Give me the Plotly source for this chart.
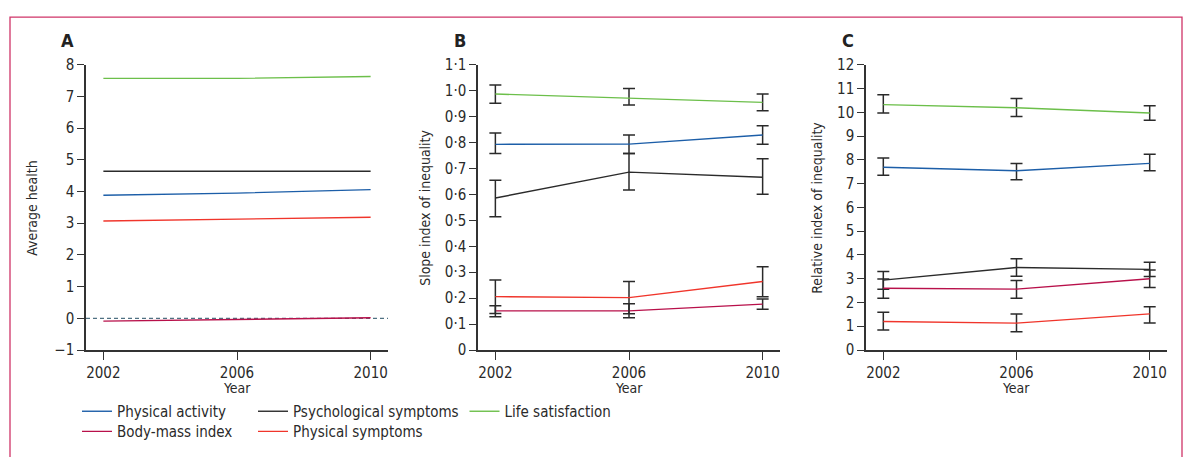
import plotly.graph_objects as go

years = [2002, 2006, 2010]

names = ["Physical activity", "Psychological symptoms", "Life satisfaction",
         "Body-mass index", "Physical symptoms"]
colors = ["#1c5ea8", "#2b2b2b", "#6cbf4a", "#b8104a", "#f0352b"]

# Panel A: average health
avg_pa = [3.88, 3.95, 4.06]
avg_psych = [4.64, 4.64, 4.64]
avg_life = [7.57, 7.57, 7.63]
avg_bmi = [-0.09, -0.04, 0.02]
avg_phys = [3.07, 3.13, 3.19]

# Panel B: slope index of inequality (estimate, upper CI, lower CI)
sii_pa = [0.793, 0.794, 0.829]
sii_pa_hi = [0.837, 0.829, 0.865]
sii_pa_lo = [0.758, 0.758, 0.793]
sii_psych = [0.586, 0.686, 0.666]
sii_psych_hi = [0.655, 0.758, 0.737]
sii_psych_lo = [0.514, 0.617, 0.601]
sii_life = [0.987, 0.972, 0.955]
sii_life_hi = [1.022, 1.008, 0.987]
sii_life_lo = [0.951, 0.945, 0.923]
sii_bmi = [0.151, 0.151, 0.177]
sii_bmi_hi = [0.171, 0.178, 0.197]
sii_bmi_lo = [0.128, 0.124, 0.157]
sii_phys = [0.206, 0.202, 0.264]
sii_phys_hi = [0.270, 0.264, 0.321]
sii_phys_lo = [0.141, 0.140, 0.205]

# Panel C: relative index of inequality (estimate, upper CI, lower CI)
rii_pa = [7.69, 7.54, 7.85]
rii_pa_hi = [8.08, 7.84, 8.23]
rii_pa_lo = [7.35, 7.16, 7.54]
rii_psych = [2.94, 3.47, 3.39]
rii_psych_hi = [3.30, 3.84, 3.69]
rii_psych_lo = [2.56, 3.10, 3.09]
rii_life = [10.32, 10.19, 9.97]
rii_life_hi = [10.74, 10.58, 10.27]
rii_life_lo = [9.97, 9.82, 9.66]
rii_bmi = [2.60, 2.56, 3.00]
rii_bmi_hi = [2.99, 2.92, 3.37]
rii_bmi_lo = [2.18, 2.18, 2.63]
rii_phys = [1.20, 1.13, 1.52]
rii_phys_hi = [1.59, 1.51, 1.82]
rii_phys_lo = [0.84, 0.77, 1.14]

a_ticks = [-1, 0, 1, 2, 3, 4, 5, 6, 7, 8]
a_ticktext = ["\u22121", "0", "1", "2", "3", "4", "5", "6", "7", "8"]
b_ticks = [0, 0.1, 0.2, 0.3, 0.4, 0.5, 0.6, 0.7, 0.8, 0.9, 1.0, 1.1]
b_ticktext = ["0", "0\u00b71", "0\u00b72", "0\u00b73", "0\u00b74", "0\u00b75", "0\u00b76",
              "0\u00b77", "0\u00b78", "0\u00b79", "1\u00b70", "1\u00b71"]
c_ticks = list(range(0, 13))
year_ticks = [2002, 2006, 2010]

FONT = "DejaVu Sans Condensed, Liberation Sans Narrow, Arial, sans-serif"
AX = "#333333"
TXT = "#2a2a2a"
W, H = 1186, 457

fig = go.Figure()

avg_sets = [avg_pa, avg_psych, avg_life, avg_bmi, avg_phys]
legend_ids = ["legend", "legend", "legend", "legend2", "legend2"]
legend_widths = [131, 166.5, None, 131, None]
for i, vals in enumerate(avg_sets):
    kw = dict(legendwidth=legend_widths[i]) if legend_widths[i] else {}
    fig.add_trace(go.Scatter(x=years, y=vals, mode="lines", name=names[i],
                             line=dict(color=colors[i], width=1.4),
                             xaxis="x", yaxis="y", legend=legend_ids[i],
                             showlegend=True, **kw))

def add_ci(vals, hi, lo, color, xa, ya):
    plus = [h - v for h, v in zip(hi, vals)]
    minus = [v - l for v, l in zip(vals, lo)]
    fig.add_trace(go.Scatter(x=years, y=vals, mode="lines",
                             line=dict(color=color, width=1.4),
                             error_y=dict(type="data", array=plus, arrayminus=minus,
                                          color="#2a2a2a", thickness=1.5, width=6),
                             xaxis=xa, yaxis=ya, showlegend=False))

sii_sets = [(sii_pa, sii_pa_hi, sii_pa_lo), (sii_psych, sii_psych_hi, sii_psych_lo),
            (sii_life, sii_life_hi, sii_life_lo), (sii_bmi, sii_bmi_hi, sii_bmi_lo),
            (sii_phys, sii_phys_hi, sii_phys_lo)]
rii_sets = [(rii_pa, rii_pa_hi, rii_pa_lo), (rii_psych, rii_psych_hi, rii_psych_lo),
            (rii_life, rii_life_hi, rii_life_lo), (rii_bmi, rii_bmi_hi, rii_bmi_lo),
            (rii_phys, rii_phys_hi, rii_phys_lo)]
for i, (v, h, l) in enumerate(sii_sets):
    add_ci(v, h, l, colors[i], "x2", "y2")
for i, (v, h, l) in enumerate(rii_sets):
    add_ci(v, h, l, colors[i], "x3", "y3")

def px_x(p):
    return p / W

def px_y(p):
    return (H - p) / H

ydom = [px_y(355), px_y(58)]
xr = [2001.48, 2010.52]

def xaxis(dom):
    return dict(domain=dom, range=xr, tickvals=year_ticks, ticks="outside", ticklen=8,
                tickwidth=1.3, tickcolor=AX, showline=True, linecolor=AX, linewidth=1.5,
                showgrid=False, zeroline=False, fixedrange=True,
                tickfont=dict(family=FONT, size=15, color=TXT))

def yaxis(rng, tv, tt, anchor):
    return dict(domain=ydom, range=rng, tickvals=tv, ticktext=tt, ticks="outside",
                ticklen=7, tickwidth=1.3, tickcolor=AX, showline=True, linecolor=AX,
                linewidth=1.5, showgrid=False, zeroline=False, anchor=anchor,
                fixedrange=True, tickfont=dict(family=FONT, size=15, color=TXT))

fig.update_layout(
    width=W, height=H,
    margin=dict(l=0, r=0, t=0, b=0),
    paper_bgcolor="white", plot_bgcolor="white",
    font=dict(family=FONT, size=14, color=TXT),
    xaxis=xaxis([px_x(86), px_x(388)]) | dict(anchor="y"),
    xaxis2=xaxis([px_x(478), px_x(780)]) | dict(anchor="y2"),
    xaxis3=xaxis([px_x(866), px_x(1167)]) | dict(anchor="y3"),
    yaxis=yaxis([-1, 8], a_ticks, a_ticktext, "x"),
    yaxis2=yaxis([0, 1.1], b_ticks, b_ticktext, "x2"),
    yaxis3=yaxis([0, 12], c_ticks, [str(t) for t in c_ticks], "x3"),
    legend=dict(orientation="h", x=px_x(77), y=px_y(419), xanchor="left", yanchor="middle",
                bgcolor="rgba(0,0,0,0)", font=dict(family=FONT, size=15, color=TXT),
                itemwidth=30),
    legend2=dict(orientation="h", x=px_x(77), y=px_y(440), xanchor="left", yanchor="middle",
                 bgcolor="rgba(0,0,0,0)", font=dict(family=FONT, size=15, color=TXT),
                 itemwidth=30),
    showlegend=True,
)

# dashed zero reference line in panel A
fig.add_shape(type="line", xref="x domain", yref="y", x0=0, x1=1, y0=0, y1=0,
              line=dict(color="#4f7182", width=1.2, dash="4px,3px"), layer="below")

# frame
fig.add_shape(type="rect", xref="paper", yref="paper", x0=px_x(10), x1=px_x(1182),
              y0=-0.1, y1=px_y(8.5), line=dict(color="#cf3468", width=1.3))

ann = []
for letter, xp in [("A", 67), ("B", 460), ("C", 848)]:
    ann.append(dict(text="<b>" + letter + "</b>", x=px_x(xp), y=px_y(33), xref="paper",
                    yref="paper", showarrow=False, xanchor="center", yanchor="middle",
                    font=dict(family=FONT, size=18, color="#222222")))
for title, xp in [("Average health", 32), ("Slope index of inequality", 425),
                  ("Relative index of inequality", 817)]:
    ann.append(dict(text=title, x=px_x(xp), y=px_y(207), xref="paper", yref="paper",
                    showarrow=False, textangle=-90, xanchor="center", yanchor="middle",
                    font=dict(family=FONT, size=14, color=TXT)))
for xp in [237, 629, 1016]:
    ann.append(dict(text="Year", x=px_x(xp), y=px_y(385.5), xref="paper", yref="paper",
                    showarrow=False, xanchor="center", yanchor="top", borderpad=0,
                    font=dict(family=FONT, size=14, color=TXT)))
fig.update_layout(annotations=ann)

fig.write_html("out.html", config={"displayModeBar": False},
               post_script="document.body.style.margin='0';document.body.style.overflow='hidden';")
